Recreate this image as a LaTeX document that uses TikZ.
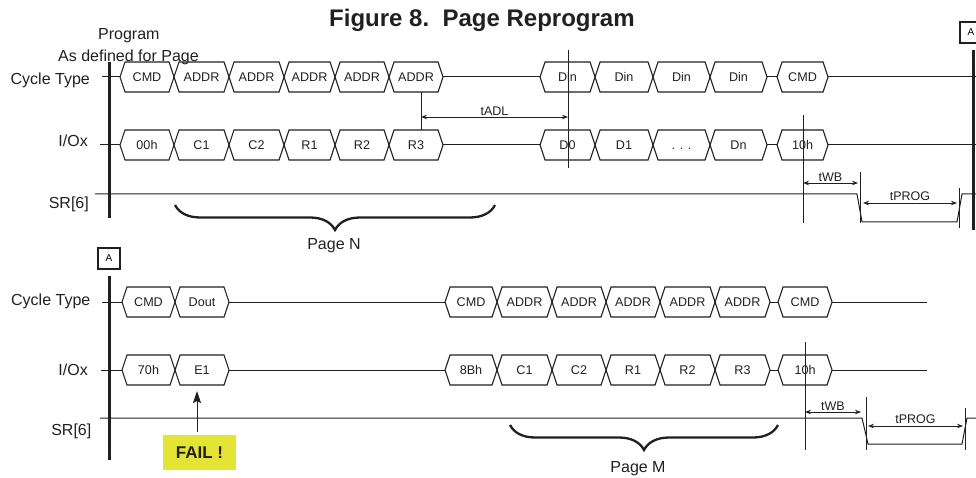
\documentclass[tikz,border=0pt]{standalone}
\usepackage{fontspec}
\setmainfont{Liberation Sans}
\usetikzlibrary{arrows.meta,decorations.pathreplacing}
\tikzset{>={Stealth[length=6pt,width=4.5pt]}}
\definecolor{ink}{RGB}{35,31,32}
\definecolor{failyellow}{RGB}{228,228,52}

\tikzset{
  bus/.style={line width=1.1pt, draw=ink},
  buslabel/.style={font=\fontsize{12.6}{14}\selectfont, anchor=base, inner sep=0pt, text=ink},
  wire/.style={line width=1pt, draw=ink},
  rail/.style={line width=3pt, draw=ink},
  markline/.style={line width=0.8pt, draw=ink},
  timing/.style={line width=0.8pt, draw=ink, <->},
  timelabel/.style={font=\fontsize{12.5}{14}\selectfont, above, inner sep=1.5pt, text=ink},
  rowlabel/.style={font=\fontsize{16}{18}\selectfont, anchor=base east, inner sep=0pt, text=ink},
  pagebrace/.style={line width=2.3pt, draw=ink, decorate, decoration={brace, mirror, amplitude=25pt}},
  offpage/.style={draw=ink, line width=1.4pt, minimum width=22pt, minimum height=21pt, inner sep=0pt, font=\fontsize{10}{11}\selectfont}
}

% one bus cycle: name, left tip, right tip, row, text
\newcommand{\busbox}[5]{%
  \draw[bus] (#2,#4) -- (#2+5,#4-15) -- (#3-5,#4-15) -- (#3,#4)
    -- (#3-5,#4+15) -- (#2+5,#4+15) -- cycle;
  \coordinate (#1-w) at (#2,#4);
  \coordinate (#1-e) at (#3,#4);
  \node[buslabel] (#1) at ({(#2+#3)/2},{#4+4.5}) {#5};
}

\begin{document}
\begin{tikzpicture}[x=1pt,y=-1pt]
\useasboundingbox (0,0) rectangle (976,478);

% Title
\node[font=\bfseries\fontsize{24}{28}\selectfont, anchor=base west, inner sep=0pt, text=ink]
  (title) at (329,27) {Figure 8.\ \ Page Reprogram};

%%%%%%%%%% Upper part: Page N %%%%%%%%%%

% Row labels
\node[rowlabel, anchor=base west] (prog) at (98,39.5) {Program};
\node[rowlabel, anchor=base west] (asdef) at (58,62) {As defined for Page};
\node[rowlabel] (cyN-lbl) at (90,84.5) {Cycle Type};
\node[rowlabel] (ioN-lbl) at (88,146.5) {I/Ox};
\node[rowlabel] (srN-lbl) at (89,208.5) {SR[6]};

% Left rail and right rail with off-page connector A
\coordinate (railN-top) at (109,62);
\coordinate (railN-bot) at (109,218);
\draw[rail] (railN-top) -- (railN-bot);
\node[offpage] (offA-top) at (971,32.5) {A};
\coordinate (railR-top) at (973,50);
\coordinate (railR-bot) at (973,230);
\draw[rail] (railR-top) -- (railR-bot);

% Cycle Type row
\busbox{cyN1}{120}{174}{77}{CMD}
\busbox{cyN2}{174}{229}{77}{ADDR}
\busbox{cyN3}{229}{284}{77}{ADDR}
\busbox{cyN4}{284}{335}{77}{ADDR}
\busbox{cyN5}{335}{389}{77}{ADDR}
\busbox{cyN6}{389}{443}{77}{ADDR}
\busbox{cyN7}{540}{595}{77}{Din}
\busbox{cyN8}{595}{653}{77}{Din}
\busbox{cyN9}{653}{710}{77}{Din}
\busbox{cyN10}{710}{767}{77}{Din}
\busbox{cyN11}{777}{828}{77}{CMD}
\coordinate (cyN-start) at (102,77);
\coordinate (cyN-end) at (976,77);
\draw[wire] (cyN-start) -- (cyN1-w);
\draw[wire] (cyN6-e) -- (cyN7-w);
\draw[wire] (cyN10-e) -- (cyN11-w);
\draw[wire] (cyN11-e) -- (cyN-end);

% I/Ox row
\busbox{ioN1}{120}{174}{145}{00h}
\busbox{ioN2}{174}{229}{145}{C1}
\busbox{ioN3}{229}{284}{145}{C2}
\busbox{ioN4}{284}{335}{145}{R1}
\busbox{ioN5}{335}{389}{145}{R2}
\busbox{ioN6}{389}{443}{145}{R3}
\busbox{ioN7}{540}{595}{145}{D0}
\busbox{ioN8}{595}{653}{145}{D1}
\busbox{ioN9}{653}{710}{145}{. . .}
\busbox{ioN10}{710}{767}{145}{Dn}
\busbox{ioN11}{777}{828}{145}{10h}
\coordinate (ioN-start) at (100,145);
\coordinate (ioN-end) at (976,145);
\draw[wire] (ioN-start) -- (ioN1-w);
\draw[wire] (ioN6-e) -- (ioN7-w);
\draw[wire] (ioN10-e) -- (ioN11-w);
\draw[wire] (ioN11-e) -- (ioN-end);

% SR[6] goes low for tPROG
\coordinate (srN-start) at (95,194);
\coordinate (srN-fall) at (857,194);
\coordinate (srN-low1) at (862,222);
\coordinate (srN-low2) at (957,222);
\coordinate (srN-rise) at (962,194);
\coordinate (srN-end) at (976,194);
\draw[wire] (srN-start) -- (srN-fall) -- (srN-low1) -- (srN-low2) -- (srN-rise) -- (srN-end);

% tADL
\coordinate (adl-a1) at (421,92);
\coordinate (adl-a2) at (421,130);
\draw[markline] (adl-a1) -- (adl-a2);
\coordinate (adl-b1) at (568,50);
\coordinate (adl-b2) at (568,168);
\draw[markline] (adl-b1) -- (adl-b2);
\coordinate (adl-l) at (421,117);
\coordinate (adl-r) at (568,117);
\draw[timing] (adl-l) -- node[timelabel] (tadl) {tADL} (adl-r);

% tWB and tPROG
\coordinate (wbN-a1) at (803,115);
\coordinate (wbN-a2) at (803,223);
\draw[markline] (wbN-a1) -- (wbN-a2);
\coordinate (wbN-b1) at (860,172);
\coordinate (wbN-b2) at (860,223);
\draw[markline] (wbN-b1) -- (wbN-b2);
\coordinate (wbN-l) at (803,183);
\coordinate (wbN-r) at (858,183);
\draw[timing] (wbN-l) -- node[timelabel] (twbN) {tWB} (wbN-r);
\coordinate (progN-b1) at (959,188);
\coordinate (progN-b2) at (959,228);
\draw[markline] (progN-b1) -- (progN-b2);
\coordinate (progN-l) at (863,203);
\coordinate (progN-r) at (957,203);
\draw[timing] (progN-l) -- node[timelabel] (tprogN) {tPROG} (progN-r);

% Page N brace
\coordinate (braceN-l) at (175,205);
\coordinate (braceN-r) at (495,205);
\draw[pagebrace] (braceN-l) -- (braceN-r);
\node[rowlabel, anchor=base] (pageN) at (334,250) {Page N};

%%%%%%%%%% Lower part: Page M %%%%%%%%%%

% Row labels
\node[rowlabel] (cyM-lbl) at (90.5,305.5) {Cycle Type};
\node[rowlabel] (ioM-lbl) at (88,375) {I/Ox};
\node[rowlabel] (srM-lbl) at (91.5,435.5) {SR[6]};

% Off-page connector A and left rail
\node[offpage] (offA-bot) at (109,258.5) {A};
\coordinate (railM-top) at (109,276);
\coordinate (railM-bot) at (109,460);
\draw[rail] (railM-top) -- (railM-bot);

% Cycle Type row
\busbox{cyM1}{122}{175}{302}{CMD}
\busbox{cyM2}{175}{229}{302}{Dout}
\busbox{cyM3}{445}{497}{302}{CMD}
\busbox{cyM4}{497}{552}{302}{ADDR}
\busbox{cyM5}{552}{606}{302}{ADDR}
\busbox{cyM6}{606}{660}{302}{ADDR}
\busbox{cyM7}{660}{715}{302}{ADDR}
\busbox{cyM8}{715}{770}{302}{ADDR}
\busbox{cyM9}{778}{832}{302}{CMD}
\coordinate (cyM-start) at (102,302);
\coordinate (cyM-end) at (927,302);
\draw[wire] (cyM-start) -- (cyM1-w);
\draw[wire] (cyM2-e) -- (cyM3-w);
\draw[wire] (cyM8-e) -- (cyM9-w);
\draw[wire] (cyM9-e) -- (cyM-end);

% I/Ox row
\busbox{ioM1}{122}{175}{370}{70h}
\busbox{ioM2}{175}{229}{370}{E1}
\busbox{ioM3}{445}{497}{370}{8Bh}
\busbox{ioM4}{497}{552}{370}{C1}
\busbox{ioM5}{552}{606}{370}{C2}
\busbox{ioM6}{606}{660}{370}{R1}
\busbox{ioM7}{660}{715}{370}{R2}
\busbox{ioM8}{715}{770}{370}{R3}
\busbox{ioM9}{778}{832}{370}{10h}
\coordinate (ioM-start) at (101,370);
\coordinate (ioM-end) at (927,370);
\draw[wire] (ioM-start) -- (ioM1-w);
\draw[wire] (ioM2-e) -- (ioM3-w);
\draw[wire] (ioM8-e) -- (ioM9-w);
\draw[wire] (ioM9-e) -- (ioM-end);

% SR[6]
\coordinate (srM-start) at (100,418);
\coordinate (srM-fall) at (862,418);
\coordinate (srM-low1) at (868,444);
\coordinate (srM-low2) at (962,444);
\coordinate (srM-rise) at (967,418);
\coordinate (srM-end) at (976,418);
\draw[wire] (srM-start) -- (srM-fall) -- (srM-low1) -- (srM-low2) -- (srM-rise) -- (srM-end);

% FAIL flag pointing at E1
\node[fill=failyellow, minimum width=73pt, minimum height=35pt, inner sep=0pt,
  font=\bfseries\fontsize{17}{20}\selectfont, text=ink] (fail) at (199.5,452.5) {FAIL !};
\coordinate (failtip) at (197,391);
\draw[line width=1pt, draw=ink, -{Stealth[length=12pt,width=8pt,inset=2pt]}]
  ([xshift=-2.5pt,yshift=3pt]fail.north) -- (failtip);

% tWB and tPROG
\coordinate (wbM-a1) at (805,342);
\coordinate (wbM-a2) at (805,450);
\draw[markline] (wbM-a1) -- (wbM-a2);
\coordinate (wbM-b1) at (866,397);
\coordinate (wbM-b2) at (866,450);
\draw[markline] (wbM-b1) -- (wbM-b2);
\coordinate (wbM-l) at (805,412);
\coordinate (wbM-r) at (861,412);
\draw[timing] (wbM-l) -- node[timelabel] (twbM) {tWB} (wbM-r);
\coordinate (progM-b1) at (965,408);
\coordinate (progM-b2) at (965,450);
\draw[markline] (progM-b1) -- (progM-b2);
\coordinate (progM-l) at (868,426);
\coordinate (progM-r) at (963,426);
\draw[timing] (progM-l) -- node[timelabel] (tprogM) {tPROG} (progM-r);

% Page M brace
\coordinate (braceM-l) at (510,425);
\coordinate (braceM-r) at (778,425);
\draw[pagebrace] (braceM-l) -- (braceM-r);
\node[rowlabel, anchor=base] (pageM) at (638,472) {Page M};
\end{tikzpicture}
\end{document}
